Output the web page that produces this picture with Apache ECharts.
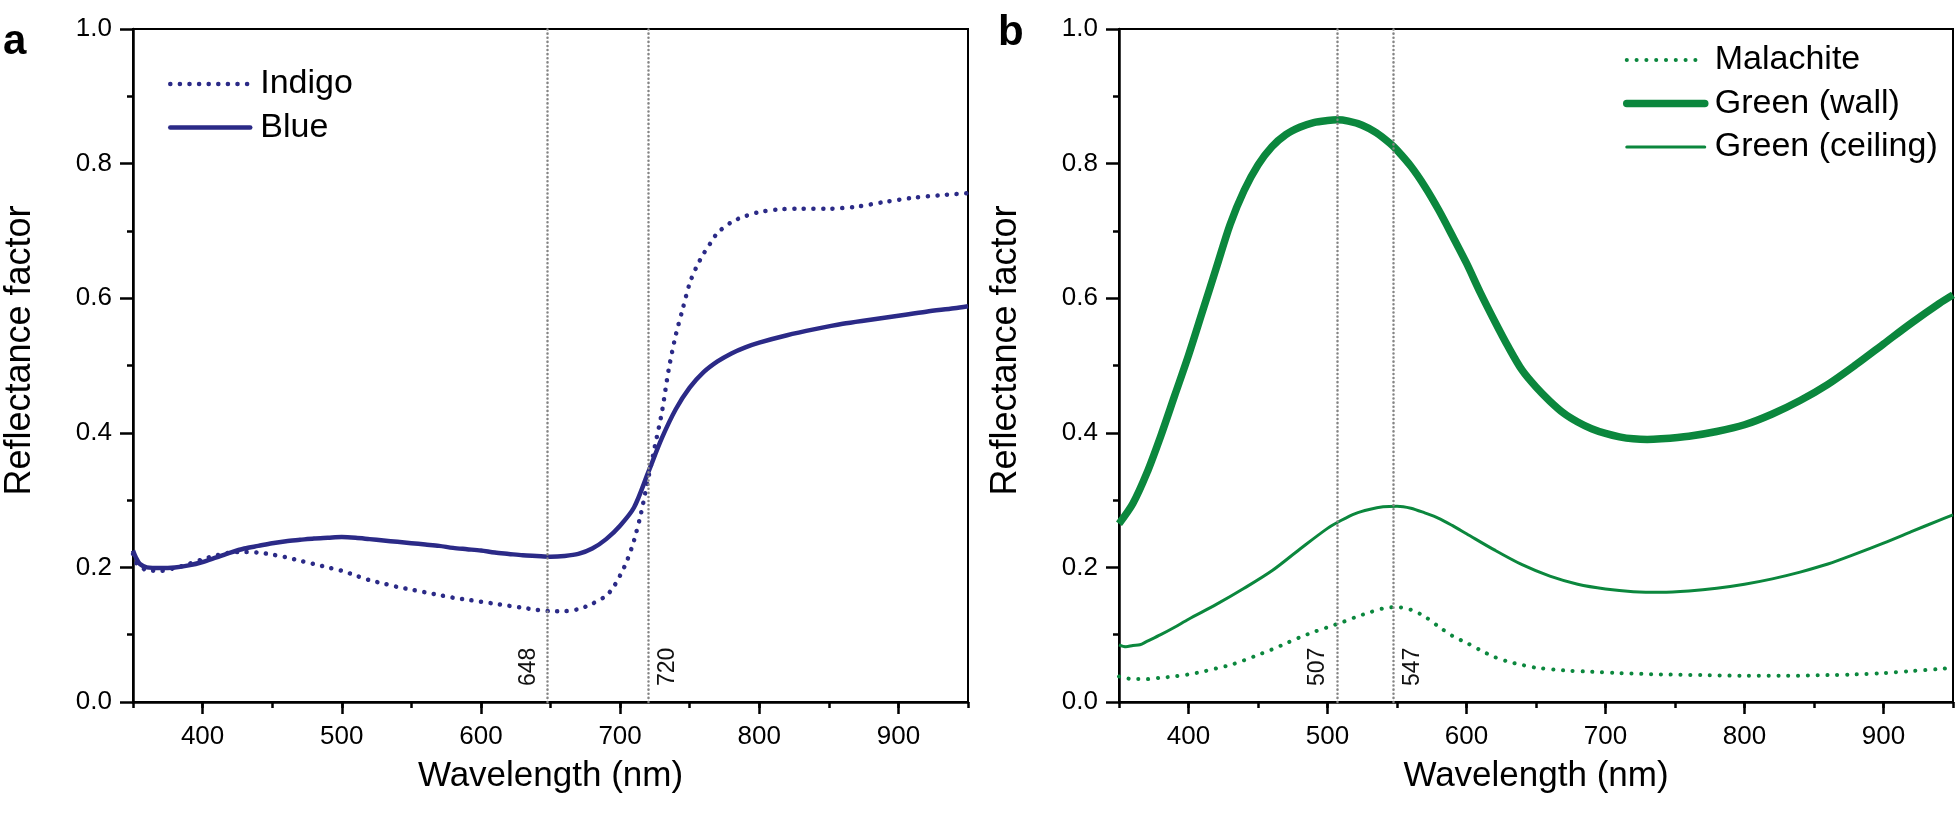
<!DOCTYPE html>
<html><head><meta charset="utf-8">
<script src="https://cdn.jsdelivr.net/npm/echarts@6/dist/echarts.min.js"></script>
<style>html,body{margin:0;padding:0;background:#fff}#c{width:1960px;height:814px}</style>
</head><body><div id="c"></div>
<script>
// ---- Data (wavelength nm / reflectance factor) ----
const indigoNm = [350,353,360,370,380,390,400,410,420,430,440,450,460,470,480,490,500,510,520,530,540,550,560,570,580,590,600,610,620,630,640,650,660,670,680,690,695,700,705,710,715,720,725,730,735,740,745,750,755,760,765,770,780,790,800,815,830,850,870,890,910,930,950];
const indigoR  = [0.22,0.205,0.196,0.195,0.199,0.205,0.212,0.218,0.222,0.223,0.222,0.219,0.215,0.21,0.205,0.2,0.195,0.188,0.181,0.176,0.171,0.167,0.163,0.159,0.155,0.152,0.149,0.146,0.143,0.14,0.137,0.135,0.135,0.138,0.146,0.158,0.17,0.188,0.21,0.24,0.28,0.33,0.38,0.43,0.495,0.545,0.584,0.622,0.647,0.666,0.682,0.697,0.713,0.722,0.728,0.732,0.733,0.733,0.736,0.743,0.749,0.753,0.756];
const blueNm = [350,352,355,360,370,380,390,400,410,420,430,440,450,460,470,480,490,500,510,520,530,540,550,560,570,580,590,600,610,620,630,640,650,660,670,680,690,700,710,720,730,740,750,760,770,780,790,800,820,840,860,880,900,920,940,950];
const blueR  = [0.225,0.215,0.205,0.2,0.199,0.2,0.203,0.208,0.215,0.222,0.228,0.232,0.236,0.239,0.241,0.243,0.244,0.245,0.244,0.242,0.24,0.238,0.236,0.234,0.232,0.229,0.227,0.225,0.222,0.22,0.218,0.217,0.216,0.217,0.22,0.228,0.242,0.262,0.289,0.34,0.392,0.435,0.467,0.49,0.506,0.518,0.527,0.534,0.545,0.554,0.562,0.568,0.574,0.58,0.585,0.588];
const malachiteNm = [350,360,370,380,390,400,410,420,430,440,450,460,470,480,490,500,510,520,530,540,550,560,570,580,590,600,610,620,630,640,650,670,690,710,740,770,800,830,860,880,900,920,940,950];
const malachiteR  = [0.038,0.034,0.034,0.036,0.038,0.041,0.045,0.05,0.055,0.062,0.07,0.078,0.087,0.096,0.104,0.111,0.118,0.126,0.133,0.139,0.141,0.137,0.127,0.112,0.098,0.088,0.077,0.067,0.06,0.055,0.051,0.047,0.045,0.043,0.041,0.04,0.039,0.039,0.04,0.041,0.043,0.046,0.049,0.051];
const wallNm = [350,360,370,380,390,400,410,420,430,440,450,460,470,480,490,500,507,515,525,535,545,550,560,570,580,590,600,610,620,630,640,650,660,670,680,690,700,710,720,730,740,760,780,800,820,840,860,880,900,920,940,950];
const wallR  = [0.265,0.295,0.34,0.395,0.455,0.515,0.58,0.645,0.71,0.76,0.798,0.825,0.843,0.854,0.861,0.864,0.865,0.863,0.857,0.846,0.83,0.82,0.796,0.766,0.731,0.692,0.652,0.608,0.567,0.528,0.493,0.468,0.447,0.429,0.416,0.406,0.399,0.394,0.391,0.39,0.391,0.395,0.402,0.412,0.428,0.448,0.472,0.501,0.532,0.563,0.592,0.605];
const ceilingNm = [350,355,360,365,370,380,390,400,420,440,460,480,500,510,520,530,540,550,560,570,580,590,600,620,640,660,680,700,720,740,760,780,800,820,840,860,880,900,920,940,950];
const ceilingR  = [0.085,0.082,0.084,0.085,0.09,0.1,0.111,0.123,0.145,0.169,0.195,0.227,0.258,0.27,0.28,0.286,0.29,0.291,0.288,0.281,0.273,0.262,0.25,0.226,0.204,0.187,0.175,0.168,0.164,0.163,0.165,0.169,0.175,0.183,0.193,0.205,0.22,0.236,0.253,0.27,0.278];
const xTickLabels = [400,500,600,700,800,900];
const markersA = [648, 720];
const markersB = [507, 547];

// ---- Styles / layout ----
const FONT = '"Liberation Sans", Arial, Helvetica, sans-serif';
const BLUE = '#2b2a87', GREEN = '#0b873d', GRAY = '#858585', BLACK = '#000';
const zip = (xs, ys) => xs.map((x, i) => [x, ys[i]]);
const lsAxis = () => ({color: BLACK, width: 2.5, type: 'solid'});
const PLOT = [{left: 133, width: 835}, {left: 1119, width: 834}];
const TOP = 29, H = 673;

const grids = PLOT.map(p => ({left: p.left, top: TOP, width: p.width, height: H, show: true,
  borderColor: BLACK, borderWidth: 2, backgroundColor: 'transparent'}));
const xAxis = [], yAxis = [];
// main x axes (0,1): short ticks every 50 nm, labels every 100 nm
[0, 1].forEach(gi => xAxis.push({
  gridIndex: gi, type: 'value', min: 350, max: 950, interval: 50, position: 'bottom',
  axisLine: {show: true, onZero: false, lineStyle: lsAxis()},
  axisTick: {show: true, inside: false, length: 6, lineStyle: lsAxis()},
  axisLabel: {show: true, formatter: v => (xTickLabels.includes(v) ? String(v) : ''), margin: 22, fontSize: 26, color: BLACK, fontFamily: FONT},
  splitLine: {show: false},
  name: 'Wavelength (nm)', nameLocation: 'middle', nameGap: 57,
  nameTextStyle: {fontSize: 35, color: BLACK, fontFamily: FONT}
}));
// companion x axes (2,3): long ticks at 400..900 (minor ticks between 350,450,...)
[0, 1].forEach(gi => xAxis.push({
  gridIndex: gi, type: 'value', min: 350, max: 950, interval: 100, position: 'bottom',
  axisLine: {show: false, onZero: false}, axisTick: {show: false}, axisLabel: {show: false}, splitLine: {show: false},
  minorTick: {show: true, splitNumber: 2, length: 12, lineStyle: lsAxis()}, minorSplitLine: {show: false}
}));
[0, 1].forEach(gi => yAxis.push({
  gridIndex: gi, type: 'value', min: 0, max: 1, interval: 0.2, position: 'left',
  axisLine: {show: true, onZero: false, lineStyle: lsAxis()},
  axisTick: {show: true, inside: false, length: 13, lineStyle: lsAxis()},
  minorTick: {show: true, splitNumber: 2, length: 6, lineStyle: lsAxis()},
  axisLabel: {show: true, formatter: v => v.toFixed(1), margin: 21, fontSize: 26, color: BLACK, fontFamily: FONT},
  splitLine: {show: false}, minorSplitLine: {show: false},
  name: 'Reflectance factor', nameLocation: 'middle', nameGap: 95,
  nameTextStyle: {fontSize: 36, color: BLACK, fontFamily: FONT, padding: [0, 0, 0, 30]}
}));

function markLines(values, sides) {
  return {
    symbol: ['none', 'none'], silent: true, animation: false,
    lineStyle: {color: GRAY, width: 2.5, type: [0.1, 4], cap: 'round'},
    label: {show: true, formatter: '{b}', fontSize: 23, color: '#111', fontFamily: FONT, distance: [16, 8]},
    data: values.map((v, i) => [
      {name: String(v), coord: [v, 0], label: {position: sides[i]}},
      {coord: [v, 1]}
    ])
  };
}
function lineSeries(name, nm, r, gi, ls, extra) {
  return Object.assign({
    type: 'line', name, xAxisIndex: gi, yAxisIndex: gi, data: zip(nm, r),
    symbol: 'none', showSymbol: false, smooth: 0.3, lineStyle: ls, itemStyle: {color: ls.color},
    z: 3
  }, extra || {});
}
function legendCfg(names, left, top, w) {
  return {
    data: names, orient: 'vertical', left, top, itemWidth: w, itemHeight: 10, itemGap: 9.5,
    itemStyle: {opacity: 0, borderWidth: 0},
    lineStyle: {width: 'inherit', type: 'inherit', color: 'inherit', cap: 'round'},
    textStyle: {fontSize: 34, color: BLACK, fontFamily: FONT, lineHeight: 34, padding: [0, 0, 0, 5]},
    selectedMode: false
  };
}

const chart = echarts.init(document.getElementById('c'), null, {renderer: 'canvas'});
chart.setOption({
  animation: false,
  backgroundColor: '#fff',
  textStyle: {fontFamily: FONT},
  grid: grids,
  xAxis,
  yAxis,
  legend: [
    legendCfg(['Indigo', 'Blue'], 163, 62, 80),
    legendCfg(['Malachite', 'Green (wall)', 'Green (ceiling)'], 1618, 38, 78)
  ],
  graphic: [
    {type: 'text', left: 3, top: 21, style: {text: 'a', font: 'bold 42px ' + FONT, fill: BLACK}},
    {type: 'text', left: 998, top: 12, style: {text: 'b', font: 'bold 42px ' + FONT, fill: BLACK}}
  ],
  series: [
    lineSeries('Indigo', indigoNm, indigoR, 0, {color: BLUE, width: 4.5, type: [0.1, 9.5], cap: 'round'},
      {markLine: markLines(markersA, ['insideStartTop', 'insideStartBottom'])}),
    lineSeries('Blue', blueNm, blueR, 0, {color: BLUE, width: 4.5}),
    lineSeries('Malachite', malachiteNm, malachiteR, 1, {color: GREEN, width: 4, type: [0.1, 9.7], cap: 'round'},
      {markLine: markLines(markersB, ['insideStartTop', 'insideStartBottom'])}),
    lineSeries('Green (wall)', wallNm, wallR, 1, {color: GREEN, width: 7.5}),
    lineSeries('Green (ceiling)', ceilingNm, ceilingR, 1, {color: GREEN, width: 3})
  ]
});
</script></body></html>
